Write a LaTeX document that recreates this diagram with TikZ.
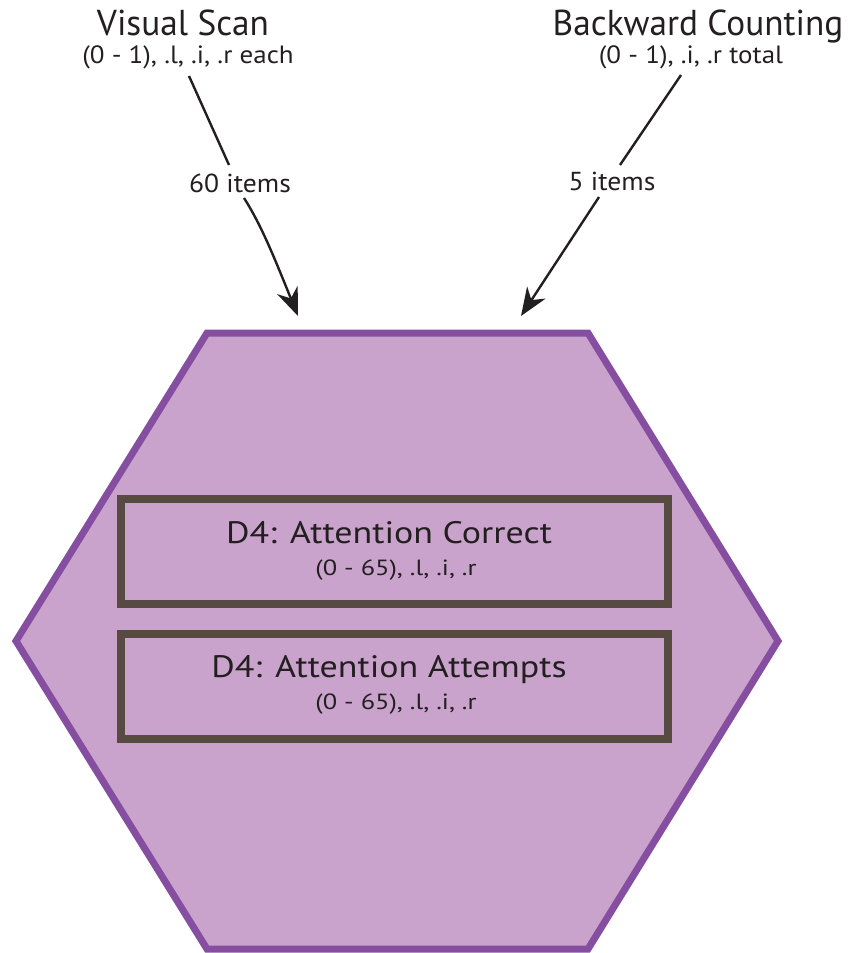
\documentclass[tikz,border=0pt]{standalone}
\usepackage{fontspec}
\setmainfont{PT Sans}
\usetikzlibrary{arrows.meta}
\definecolor{hexline}{RGB}{134,78,160}
\definecolor{hexfill}{RGB}{201,163,204}
\definecolor{boxline}{RGB}{87,74,66}
\definecolor{ink}{RGB}{35,31,32}
\newcommand{\titletext}[1]{\scalebox{0.98}[1]{#1}}
\newcommand{\subtext}[1]{\scalebox{1.08}[1]{#1}}
\newcommand{\boxtext}[1]{\scalebox{1.16}[1]{#1}}
\newcommand{\boxsubtext}[1]{\scalebox{1.2}[1]{#1}}
\newcommand{\labtext}[1]{\scalebox{1.06}[1]{#1}}
\begin{document}
\begin{tikzpicture}[x=1pt,y=-1pt,
  title/.style={font=\fontsize{36}{36}\selectfont, text=ink, inner sep=0pt, anchor=base},
  sub/.style={font=\fontsize{25}{25}\selectfont, text=ink, inner sep=0pt, anchor=base},
  boxsub/.style={font=\fontsize{22}{22}\selectfont, text=ink, inner sep=0pt, anchor=base},
  lab/.style={font=\fontsize{26}{26}\selectfont, text=ink, inner sep=0pt, anchor=base},
  boxtitle/.style={font=\fontsize{31}{31}\selectfont, text=ink, inner sep=0pt, anchor=base},
  conn/.style={draw=ink, line width=2.4pt},
  tip/.style={-{Stealth[length=28pt,width=22pt,inset=9pt]}},
  hexshape/.style={draw=hexline, fill=hexfill, line width=7pt, line join=miter},
  databox/.style={draw=boxline, line width=8pt}
]
\useasboundingbox (0,0) rectangle (857,953);
% hexagon
\path[hexshape] (207,333) -- (588,333) -- (778,641) -- (588,949) -- (207,949) -- (16,641) -- cycle;
% boxes
\draw[databox] (121,499) rectangle (668,604);
\draw[databox] (121,634) rectangle (668,739);
\node[boxtitle] (c1) at (389,543) {\boxtext{D4: Attention Correct}};
\node[boxsub] (c1s) at (396,575) {\boxsubtext{(0 - 65), .l, .i, .r}};
\node[boxtitle] (c2) at (389,677) {\boxtext{D4: Attention Attempts}};
\node[boxsub] (c2s) at (396,709) {\boxsubtext{(0 - 65), .l, .i, .r}};
% sources
\node[title] (vs) at (183,35) {\titletext{Visual Scan}};
\node[sub] (vss) at (188,63) {\subtext{(0 - 1), .l, .i, .r each}};
\node[title] (bc) at (698,35) {\titletext{Backward Counting}};
\node[sub] (bcs) at (691,63) {\subtext{(0 - 1), .i, .r total}};
% labels
\node[lab] (l60) at (240,192) {\labtext{60 items}};
\node[lab] (l5) at (612,190) {\labtext{5 items}};
% coordinates
\coordinate (a0) at (189,76);
\coordinate (a1) at (229,165);
\coordinate (a2) at (244,198);
\coordinate (a3) at (298,316);
\coordinate (b0) at (681,75);
\coordinate (b1) at (620,165);
\coordinate (b2) at (599,197);
\coordinate (b3) at (521,316);
\draw[conn] (a0) -- (a1);
\draw[conn,tip] (a2) .. controls (262,226) and (276,262) .. (a3);
\draw[conn] (b0) -- (b1);
\draw[conn,tip] (b2) -- (b3);
\end{tikzpicture}
\end{document}
